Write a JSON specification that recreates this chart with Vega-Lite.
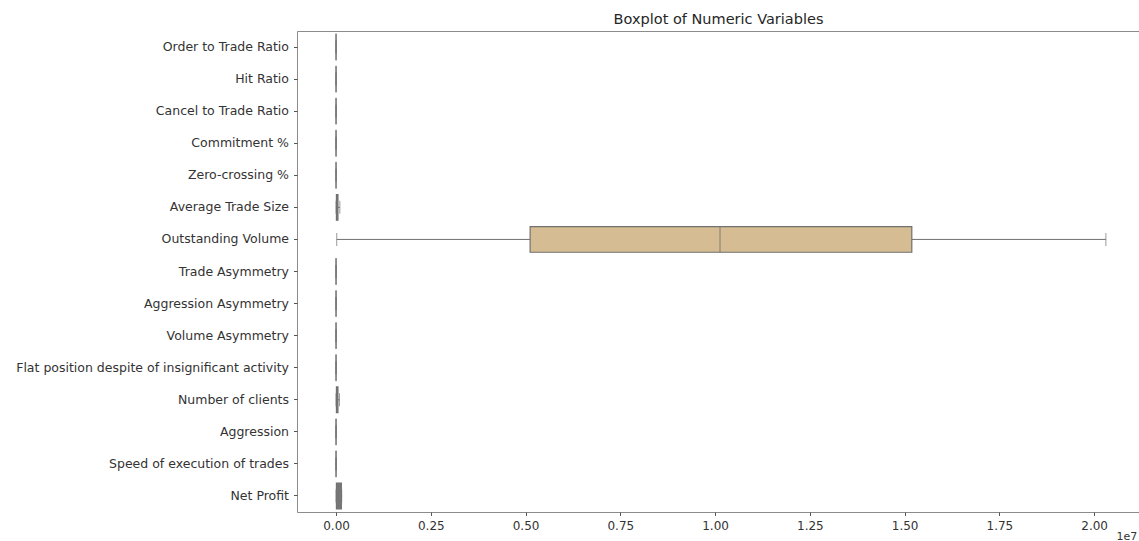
{
  "$schema": "https://vega.github.io/schema/vega-lite/v6.json",
  "autosize": "none",
  "padding": {"left": 297, "top": 31, "right": 0, "bottom": 29},
  "width": 843,
  "height": 481,
  "background": "white",
  "config": {
    "font": "DejaVu Sans",
    "view": {"stroke": "#8c8c8c", "strokeWidth": 1},
    "axis": {"labelFont": "DejaVu Sans", "titleFont": "DejaVu Sans", "labelColor": "#333333", "tickColor": "#555555", "domain": false, "grid": false}
  },
  "title": {"text": "Boxplot of Numeric Variables", "fontSize": 14.5, "fontWeight": "normal", "color": "#262626", "anchor": "middle", "offset": 4, "font": "DejaVu Sans"},
  "data": {
    "values": [
      {"name": "Order to Trade Ratio", "min": 0, "q1": 1, "median": 2, "q3": 4, "max": 8},
      {"name": "Hit Ratio", "min": 0, "q1": 0.2, "median": 0.5, "q3": 0.8, "max": 1},
      {"name": "Cancel to Trade Ratio", "min": 0, "q1": 1, "median": 2, "q3": 3, "max": 6},
      {"name": "Commitment %", "min": 0, "q1": 20, "median": 50, "q3": 80, "max": 100},
      {"name": "Zero-crossing %", "min": 0, "q1": 20, "median": 50, "q3": 80, "max": 100},
      {"name": "Average Trade Size", "min": 0, "q1": 10000, "median": 25000, "q3": 50000, "max": 100000},
      {"name": "Outstanding Volume", "min": 18000, "q1": 5120000, "median": 10130000, "q3": 15190000, "max": 20310000},
      {"name": "Trade Asymmetry", "min": -1, "q1": -0.5, "median": 0, "q3": 0.5, "max": 1},
      {"name": "Aggression Asymmetry", "min": -1, "q1": -0.5, "median": 0, "q3": 0.5, "max": 1},
      {"name": "Volume Asymmetry", "min": -1, "q1": -0.5, "median": 0, "q3": 0.5, "max": 1},
      {"name": "Flat position despite of insignificant activity", "min": 0, "q1": 0, "median": 0, "q3": 1, "max": 1},
      {"name": "Number of clients", "min": 1, "q1": 10000, "median": 25000, "q3": 50000, "max": 90000},
      {"name": "Aggression", "min": 0, "q1": 0.25, "median": 0.5, "q3": 0.75, "max": 1},
      {"name": "Speed of execution of trades", "min": 0, "q1": 10, "median": 50, "q3": 100, "max": 200},
      {"name": "Net Profit", "min": 0, "q1": 10000, "median": 70000, "q3": 140000, "max": 150000}
    ]
  },
  "encoding": {
    "y": {
      "field": "name", "type": "nominal", "sort": null,
      "scale": {"paddingInner": 0.2, "paddingOuter": 0.1},
      "axis": {"title": null, "labelFontSize": 12.5, "tickSize": 3.5, "labelPadding": 5, "labelLimit": 400}
    }
  },
  "layer": [
    {
      "mark": {"type": "rule", "color": "#707070", "strokeWidth": 1},
      "encoding": {
        "x": {"field": "min", "type": "quantitative",
          "scale": {"domain": [-1030000, 21210000], "nice": false, "zero": false},
          "axis": {"values": [0, 2500000, 5000000, 7500000, 10000000, 12500000, 15000000, 17500000, 20000000],
            "labelExpr": "format(datum.value / 10000000, '.2f')", "labelFontSize": 12, "tickSize": 3.5, "labelPadding": 5,
            "title": "1e7", "titleFontSize": 11, "titleFontWeight": "normal", "titleColor": "#333333",
            "titleAnchor": "start", "titleAlign": "left", "titleBaseline": "alphabetic", "titleX": 819, "titleY": 27}},
        "x2": {"field": "q1"}
      }
    },
    {
      "mark": {"type": "rule", "color": "#707070", "strokeWidth": 1},
      "encoding": {"x": {"field": "q3", "type": "quantitative"}, "x2": {"field": "max"}}
    },
    {
      "mark": {"type": "tick", "orient": "vertical", "color": "#707070", "size": 13, "thickness": 1},
      "encoding": {"x": {"field": "min", "type": "quantitative"}}
    },
    {
      "mark": {"type": "tick", "orient": "vertical", "color": "#707070", "size": 13, "thickness": 1},
      "encoding": {"x": {"field": "max", "type": "quantitative"}}
    },
    {
      "mark": {"type": "bar", "stroke": "#707070", "strokeWidth": 1.2},
      "encoding": {
        "x": {"field": "q1", "type": "quantitative"}, "x2": {"field": "q3"},
        "fill": {"condition": {"test": "datum.name === 'Outstanding Volume'", "value": "#d6bc93"}, "value": "#7a7a7a"}
      }
    },
    {
      "mark": {"type": "tick", "orient": "vertical", "color": "#707070", "size": 25.6, "thickness": 1.2},
      "encoding": {"x": {"field": "median", "type": "quantitative"}}
    }
  ]
}
